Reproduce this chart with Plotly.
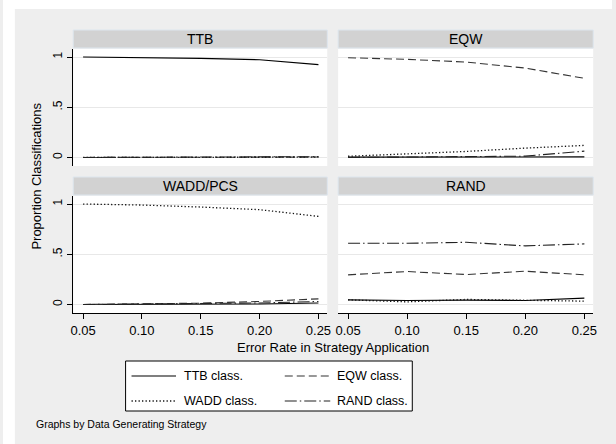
import plotly.graph_objects as go

# the page's body margin is removed (see post_script), so figure pixels = screen pixels
OFF = 0
W, H = 616, 444

# ---------------- data ----------------
error_rates = [0.05, 0.10, 0.15, 0.20, 0.25]
x_tick_labels = ["0.05", "0.10", "0.15", "0.20", "0.25"]
y_tick_vals = [0, 0.5, 1]
y_tick_labels = ["0", ".5", "1"]

panel_titles = ["TTB", "EQW", "WADD/PCS", "RAND"]
series_names = ["TTB class.", "EQW class.", "WADD class.", "RAND class."]

# data generated by TTB
ttb_gen_ttb = [1.0, 0.997, 0.987, 0.973, 0.924]
ttb_gen_eqw = [0.0, 0.0, 0.0, 0.002, 0.004]
ttb_gen_wadd = [0.0, 0.0, 0.0, 0.0, 0.003]
ttb_gen_rand = [0.0, 0.001, 0.002, 0.004, 0.008]

# data generated by EQW
eqw_gen_ttb = [0.003, 0.003, 0.004, 0.004, 0.006]
eqw_gen_eqw = [0.993, 0.977, 0.95, 0.89, 0.788]
eqw_gen_wadd = [0.012, 0.033, 0.06, 0.093, 0.12]
eqw_gen_rand = [0.0, 0.002, 0.004, 0.013, 0.063]

# data generated by WADD/PCS
wadd_gen_ttb = [0.0, 0.0, 0.002, 0.005, 0.015]
wadd_gen_eqw = [0.0, 0.005, 0.013, 0.03, 0.056]
wadd_gen_wadd = [1.0, 0.99, 0.97, 0.944, 0.877]
wadd_gen_rand = [0.0, 0.003, 0.008, 0.015, 0.03]

# data generated by RAND
rand_gen_ttb = [0.046, 0.04, 0.043, 0.04, 0.063]
rand_gen_eqw = [0.295, 0.328, 0.298, 0.331, 0.295]
rand_gen_wadd = [0.046, 0.026, 0.05, 0.04, 0.033]
rand_gen_rand = [0.609, 0.609, 0.619, 0.583, 0.603]

panels_data = [
    [ttb_gen_ttb, ttb_gen_eqw, ttb_gen_wadd, ttb_gen_rand],
    [eqw_gen_ttb, eqw_gen_eqw, eqw_gen_wadd, eqw_gen_rand],
    [wadd_gen_ttb, wadd_gen_eqw, wadd_gen_wadd, wadd_gen_rand],
    [rand_gen_ttb, rand_gen_eqw, rand_gen_wadd, rand_gen_rand],
]

# ---------------- styles ----------------
FONT = "Liberation Sans, Arial, sans-serif"
BG = "#eeeeee"
STRIP = "#d2d2d2"
STRIP_LINE = "#dde6ee"
GRID = "#e8e8e8"
line_styles = [
    dict(color="#000000", width=1.1, dash="solid"),
    dict(color="#333333", width=1.1, dash="8px,4px"),
    dict(color="#111111", width=1.3, dash="1.3px,2.2px"),
    dict(color="#222222", width=1.1, dash="12px,3px,1.5px,3px"),
]


def px(x):
    return (x - OFF) / W


def py(y):
    return 1 - (y - OFF) / H


# panel geometry in screen pixels: (left, right, top, bottom)
cols = [(71, 328), (339, 597)]
rows = [(49, 166), (196, 313)]
XR = [0.0416, 0.2575]
YR = [-0.085, 1.08]

fig = go.Figure()
shapes = []
annotations = []

layout_axes = {}
for i in range(4):
    r, c = divmod(i, 2)
    xl, xr = cols[c]
    yt, yb = rows[r]
    n = i + 1
    xa = "xaxis" if n == 1 else f"xaxis{n}"
    ya = "yaxis" if n == 1 else f"yaxis{n}"
    xref = "x" if n == 1 else f"x{n}"
    yref = "y" if n == 1 else f"y{n}"
    bottom = r == 1
    left = c == 0
    layout_axes[xa] = dict(
        domain=[px(xl), px(xr)], range=XR, anchor=yref,
        tickvals=error_rates, ticktext=x_tick_labels,
        showticklabels=bottom, ticks="outside" if bottom else "",
        ticklen=5, tickwidth=1, tickcolor="#000",
        showline=bottom, linecolor="#000", linewidth=1,
        showgrid=False, zeroline=False,
        tickfont=dict(family=FONT, size=13, color="#000"),
        fixedrange=True,
    )
    layout_axes[ya] = dict(
        domain=[py(yb), py(yt)], range=YR, anchor=xref,
        tickvals=y_tick_vals, ticktext=y_tick_labels,
        showticklabels=left, ticks="outside" if left else "",
        ticklen=5, tickwidth=1, tickcolor="#000", tickangle=-90,
        showline=left, linecolor="#000", linewidth=1,
        showgrid=True, gridcolor=GRID, gridwidth=1, zeroline=False,
        tickfont=dict(family=FONT, size=12, color="#000"),
        fixedrange=True,
    )
    for s in range(4):
        fig.add_trace(go.Scatter(
            x=error_rates, y=panels_data[i][s], mode="lines",
            line=line_styles[s], name=series_names[s],
            xaxis=xref, yaxis=yref, showlegend=False, hoverinfo="skip",
        ))
    # strip header
    shapes.append(dict(type="rect", xref="paper", yref="paper",
                       x0=px(xl), x1=px(xr), y0=py(yt - 1), y1=py(yt - 19),
                       fillcolor=STRIP, line=dict(color=STRIP_LINE, width=1),
                       layer="above"))
    annotations.append(dict(text=panel_titles[i], xref="paper", yref="paper",
                            x=px((xl + xr) / 2), y=py(yt - 10), showarrow=False,
                            xanchor="center", yanchor="middle",
                            font=dict(family=FONT, size=14, color="#000")))

# white margins outside the grey graph region (top and left strips)
shapes.append(dict(type="rect", xref="paper", yref="paper", x0=0, x1=1,
                   y0=py(9), y1=1, fillcolor="#ffffff", line=dict(width=0), layer="below"))
shapes.append(dict(type="rect", xref="paper", yref="paper", x0=0, x1=px(12),
                   y0=0, y1=1, fillcolor="#ffffff", line=dict(width=0), layer="below"))

# axis titles
annotations.append(dict(text="Proportion Classifications", xref="paper", yref="paper",
                        x=px(34), y=py(176), showarrow=False, textangle=-90,
                        xanchor="center", yanchor="middle",
                        font=dict(family=FONT, size=13, color="#000")))
annotations.append(dict(text="Error Rate in Strategy Application", xref="paper", yref="paper",
                        x=px(334), y=py(347), showarrow=False,
                        xanchor="center", yanchor="middle",
                        font=dict(family=FONT, size=13, color="#000")))

# legend box (manual, two columns)
shapes.append(dict(type="rect", xref="paper", yref="paper",
                   x0=px(124), x1=px(414), y0=py(411), y1=py(361),
                   fillcolor="#ffffff", line=dict(color="#000", width=1)))
leg_pos = [(130, 175, 181, 376), (285, 331, 336, 376),
           (130, 175, 181, 401), (285, 331, 336, 401)]
for s, (lx0, lx1, tx, ly) in enumerate(leg_pos):
    st = line_styles[s]
    shapes.append(dict(type="line", xref="paper", yref="paper",
                       x0=px(lx0), x1=px(lx1), y0=py(ly), y1=py(ly),
                       line=dict(color=st["color"], width=st["width"], dash=st["dash"])))
    annotations.append(dict(text=series_names[s], xref="paper", yref="paper",
                            x=px(tx), y=py(ly), showarrow=False,
                            xanchor="left", yanchor="middle",
                            font=dict(family=FONT, size=12.5, color="#000")))

annotations.append(dict(text="Graphs by Data Generating Strategy", xref="paper", yref="paper",
                        x=px(31), y=py(424), showarrow=False,
                        xanchor="left", yanchor="middle",
                        font=dict(family=FONT, size=10.5, color="#000")))

fig.update_layout(
    width=W, height=H,
    margin=dict(l=0, r=0, t=0, b=0),
    paper_bgcolor=BG, plot_bgcolor="#ffffff",
    showlegend=False,
    shapes=shapes, annotations=annotations,
    **layout_axes,
)

fig.write_html(
    "out.html",
    config={"displayModeBar": False},
    post_script="document.body.style.margin='0';document.body.style.overflow='hidden';",
)
